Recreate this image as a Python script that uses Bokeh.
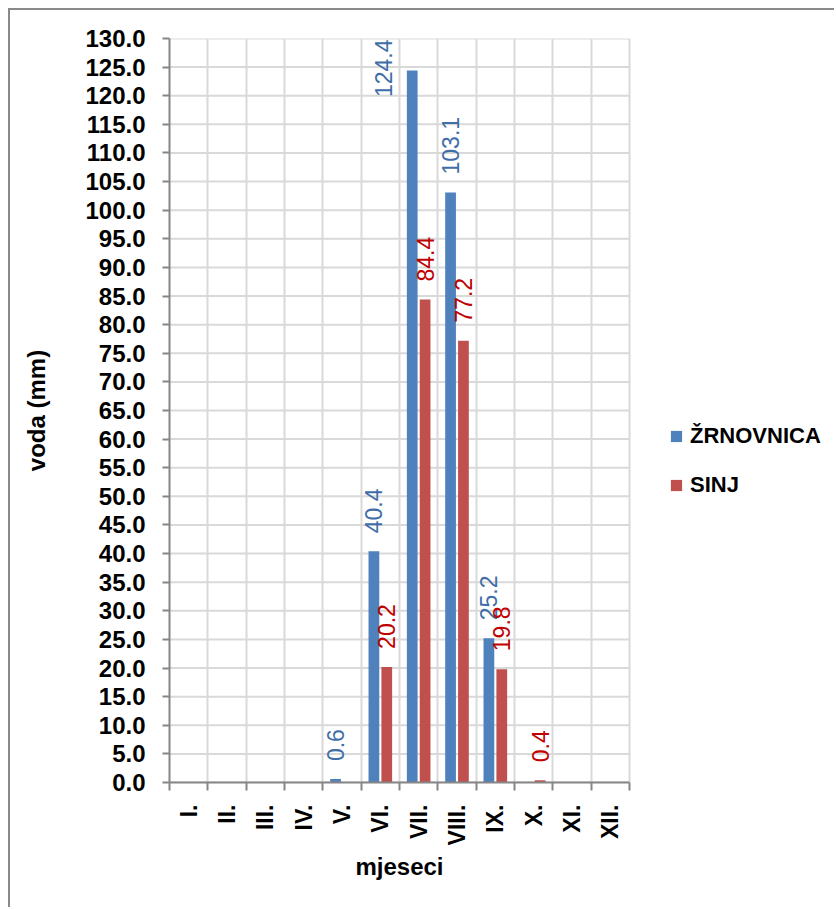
import math
from bokeh.plotting import figure
from bokeh.models import (ColumnDataSource, Range1d, FixedTicker, PrintfTickFormatter,
                          LabelSet, Legend, LegendItem, Title)
from bokeh.core.properties import value
from bokeh.embed import file_html
from bokeh.resources import INLINE

months = ["I.", "II.", "III.", "IV.", "V.", "VI.", "VII.", "VIII.", "IX.", "X.", "XI.", "XII."]
zrnovnica = [0, 0, 0, 0, 0.6, 40.4, 124.4, 103.1, 25.2, 0, 0, 0]
sinj = [0, 0, 0, 0, 0, 20.2, 84.4, 77.2, 19.8, 0.4, 0, 0]
series_names = ["ŽRNOVNICA", "SINJ"]
y_ticks = [v * 5 for v in range(27)]
x_title = "mjeseci"
y_title = "voda (mm)"

BLUE = "#4F81BD"
RED = "#C0504D"
BLUE_TXT = "#3F6EA8"
RED_TXT = "#C00000"
AXIS = "#868686"
GRID = "#D9D9D9"
FONT = "Liberation Sans"

W, H = 826, 899
ML, MT, MB = 159, 28, 127
CAT_W = 460                      # pixel width of the category area
frame_h = H - MT - MB
frame_w = W - ML
y_max = 130
ppu = frame_h / y_max

n = len(months)
x_max = n * frame_w / CAT_W      # frame extends to the right to host the legend
centers = [i + 0.5 for i in range(n)]
bounds = [i for i in range(n + 1)]
off = 0.168
bw = 0.28

p = figure(width=W, height=H, output_backend="svg", toolbar_location=None,
           x_range=Range1d(0, x_max), y_range=Range1d(0, y_max),
           min_border_left=ML, min_border_right=0, min_border_top=MT, min_border_bottom=MB)
p.styles = {"margin-left": "8px", "margin-top": "8px",
            "border-left": "2px solid #898989", "border-top": "2px solid #898989"}
p.outline_line_color = None
p.background_fill_color = "white"
p.border_fill_color = "white"

# horizontal grid lines limited to the category area
p.ygrid.visible = False
p.segment(x0=[0] * len(y_ticks), x1=[n] * len(y_ticks), y0=y_ticks, y1=y_ticks,
          line_color=GRID, line_width=2)
p.xgrid.ticker = FixedTicker(ticks=bounds)
p.xgrid.grid_line_color = GRID
p.xgrid.grid_line_width = 2

src_b = ColumnDataSource(dict(x=[c - off for c in centers], top=zrnovnica))
src_r = ColumnDataSource(dict(x=[c + off for c in centers], top=sinj))
rb = p.vbar(x="x", top="top", width=bw, bottom=0, source=src_b, fill_color=BLUE, line_color=None)
rr = p.vbar(x="x", top="top", width=bw, bottom=0, source=src_r, fill_color=RED, line_color=None)

# y axis
ya = p.yaxis[0]
ya.ticker = FixedTicker(ticks=y_ticks)
ya.formatter = PrintfTickFormatter(format="%.1f")
ya.axis_line_color = AXIS
ya.axis_line_width = 2
ya.major_tick_line_color = AXIS
ya.major_tick_line_width = 2
ya.major_tick_out = 7
ya.major_tick_in = 0
ya.minor_tick_line_color = None
ya.major_label_text_font = FONT
ya.major_label_text_font_size = "24px"
ya.major_label_text_font_style = "bold"
ya.major_label_text_color = "black"
ya.major_label_standoff = 17
ya.axis_label = y_title
ya.axis_label_text_font = FONT
ya.axis_label_text_font_size = "24px"
ya.axis_label_text_font_style = "bold"
ya.axis_label_text_color = "black"
ya.axis_label_standoff = 32

# x axis
xa = p.xaxis[0]
xa.bounds = (0, n)
xa.ticker = FixedTicker(ticks=centers, minor_ticks=bounds)
xa.major_label_overrides = {c: m for c, m in zip(centers, months)}
xa.axis_line_color = AXIS
xa.axis_line_width = 2
xa.major_tick_line_color = None
xa.major_tick_out = 0
xa.major_tick_in = 0
xa.minor_tick_line_color = AXIS
xa.minor_tick_line_width = 2
xa.minor_tick_out = 8
xa.minor_tick_in = 0
xa.major_label_orientation = math.pi / 2
xa.major_label_text_font = FONT
xa.major_label_text_font_size = "23px"
xa.major_label_text_font_style = "bold"
xa.major_label_text_color = "black"
xa.major_label_standoff = 14

# x axis title centred on the category area
XT_FS = 24
xt_w = 3.669 * XT_FS
p.add_layout(Title(text=x_title, align="left", offset=CAT_W / 2 - xt_w / 2,
                   text_font=FONT, text_font_size=f"{XT_FS}px", text_font_style="bold",
                   text_color="black", standoff=4), "below")

# data labels
LBL_FS = 23
GAP = 18


def text_len_px(s, fs):
    return sum(0.278 if ch == "." else 0.556 for ch in s) * fs


lx, ly, lt, lc, lxo, lyo = [], [], [], [], [], []
for vals, shift, col in ((zrnovnica, -off, BLUE_TXT), (sinj, off, RED_TXT)):
    for c, v in zip(centers, vals):
        if v == 0:
            continue
        s = "%.1f" % v
        L = text_len_px(s, LBL_FS)
        top_px = v * ppu + GAP + L
        limit_px = frame_h - 1
        if top_px > limit_px:
            ly.append((limit_px - L) / ppu)
            lyo.append(0)
            lxo.append(-(bw * CAT_W / n / 2 + LBL_FS))
        else:
            ly.append(v)
            lyo.append(GAP)
            lxo.append(0)
        lx.append(c + shift)
        lt.append(s)
        lc.append(col)

lsrc = ColumnDataSource(dict(x=lx, y=ly, text=lt, color=lc, xo=lxo, yo=lyo))
labels = LabelSet(x="x", y="y", text="text", source=lsrc, angle=math.pi / 2,
                  text_align="left", text_baseline="middle", text_color="color",
                  text_font=value(FONT), text_font_size=value(f"{LBL_FS}px"),
                  x_offset="xo", y_offset="yo")
p.add_layout(labels)

legend = Legend(items=[LegendItem(label=series_names[0], renderers=[rb]),
                       LegendItem(label=series_names[1], renderers=[rr])],
                location=(500, 284), orientation="vertical")
legend.glyph_width = 14
legend.glyph_height = 14
legend.label_standoff = 7
legend.spacing = 23
legend.padding = 0
legend.margin = 0
legend.border_line_color = None
legend.background_fill_alpha = 0
legend.label_text_font = FONT
legend.label_text_font_size = "22px"
legend.label_text_font_style = "bold"
legend.label_text_color = "black"
legend.label_height = 25
p.add_layout(legend, "center")

open("out.html", "w").write(file_html(p, INLINE))
